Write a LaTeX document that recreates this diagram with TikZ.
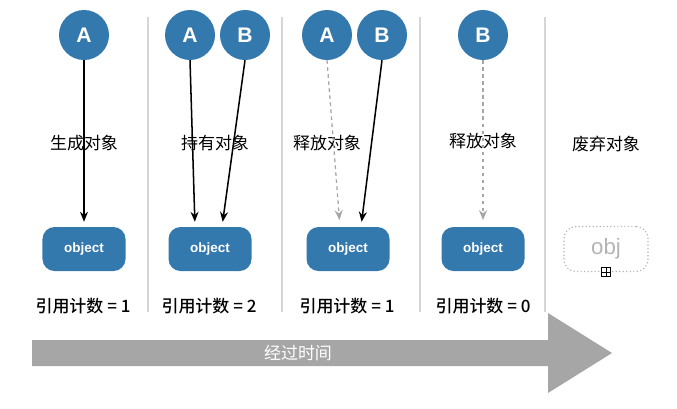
\documentclass[tikz,border=0pt]{standalone}
\usepackage{fontspec}
\setmainfont{Liberation Sans}
\newfontfamily\cjk{Noto Sans CJK SC}
\newfontfamily\cjkmed{Noto Sans CJK SC Medium}
\usepackage{xcolor}
\usetikzlibrary{arrows.meta, positioning, calc}

\definecolor{refblue}{HTML}{3479AE}
\definecolor{sepgray}{HTML}{D6D6D6}
\definecolor{timegray}{HTML}{A6A6A6}
\definecolor{goneGray}{HTML}{B4B4B4}

\tikzset{
  ref/.style={circle, fill=refblue, minimum size=1.5cm, inner sep=0pt,
    text=white, font=\fontsize{18}{20}\selectfont\bfseries},
  obj/.style={rectangle, rounded corners=0.36cm, fill=refblue, minimum width=2.49cm,
    minimum height=1.32cm, text=white, font=\fontsize{11.5}{13}\selectfont\bfseries},
  gone/.style={rectangle, rounded corners=0.36cm, draw=goneGray, dotted, line width=1pt,
    minimum width=2.52cm, minimum height=1.35cm, text=goneGray,
    font=\fontsize{19}{21}\selectfont},
  stage/.style={font=\cjk\fontsize{14.5}{17}\selectfont},
  count/.style={font=\cjkmed\fontsize{14.5}{17}\selectfont},
  sep/.style={draw=sepgray, line width=1.2pt},
  hold/.style={-{Stealth[length=3mm, width=2.4mm]}, line width=1.3pt, shorten >=0.15cm},
  freed/.style={-{Stealth[length=3mm, width=2.4mm]}, draw=timegray, line width=1.1pt,
    dashed, dash pattern=on 3pt off 3pt, shorten >=0.2cm},
}

\begin{document}
\begin{tikzpicture}[x=0.03cm, y=-0.03cm]
    \useasboundingbox (0,0) rectangle (677,408);

    % Separators
    \foreach \sx in {148,282,420,545}
        \draw[sep] (\sx,17) -- (\sx,312);

    % Time axis
    \fill[timegray] (32,340) -- (548,340) -- (548,313) -- (612,353)
        -- (548,393) -- (548,366) -- (32,366) -- cycle;
    \node[text=white, font=\cjk\fontsize{14.5}{17}\selectfont] (time) at (298,353) {经过时间};

    % Create
    \node[ref] (a1) at (84,35) {A};
    \node[stage] (s1) at (84,143) {生成对象};
    \node[obj] (o1) at (84,249) {object};
    \node[count] (c1) at (83,306) {引用计数 = 1};
    \draw[hold] (a1.south) -- (o1.north);

    % Retain
    \node[ref] (a2) at (190,35) {A};
    \node[ref] (b2) at (245,35) {B};
    \node[stage] (s2) at (215,143) {持有对象};
    \node[obj] (o2) at (210,249) {object};
    \node[count] (c2) at (209,306) {引用计数 = 2};
    \draw[hold] (a2.south) -- ($(o2.north)+(-15,0)$);
    \draw[hold] (b2.south) -- ($(o2.north)+(12,0)$);

    % Release A
    \node[ref] (a3) at (327,35) {A};
    \node[ref] (b3) at (382,35) {B};
    \node[stage] (s3) at (327,143) {释放对象};
    \node[obj] (o3) at (348,249) {object};
    \node[count] (c3) at (347,306) {引用计数 = 1};
    \draw[freed] (a3.south) -- ($(o3.north)+(-8,0)$);
    \draw[hold] (b3.south) -- ($(o3.north)+(13,0)$);

    % Release B
    \node[ref] (b4) at (483,35) {B};
    \node[stage] (s4) at (483,141) {释放对象};
    \node[obj] (o4) at (483,249) {object};
    \node[count] (c4) at (483,306) {引用计数 = 0};
    \draw[freed] (b4.south) -- (o4.north);

    % Dealloc
    \node[stage] (s5) at (606,144) {废弃对象};
    \node[gone] (o5) at (606,249) {obj};
    \node[draw, fill=white, line width=0.5pt, minimum size=0.28cm, inner sep=0pt] (h5) at (o5.south) {};
    \draw[line width=0.5pt] (h5.north) -- (h5.south) (h5.west) -- (h5.east);
\end{tikzpicture}
\end{document}
